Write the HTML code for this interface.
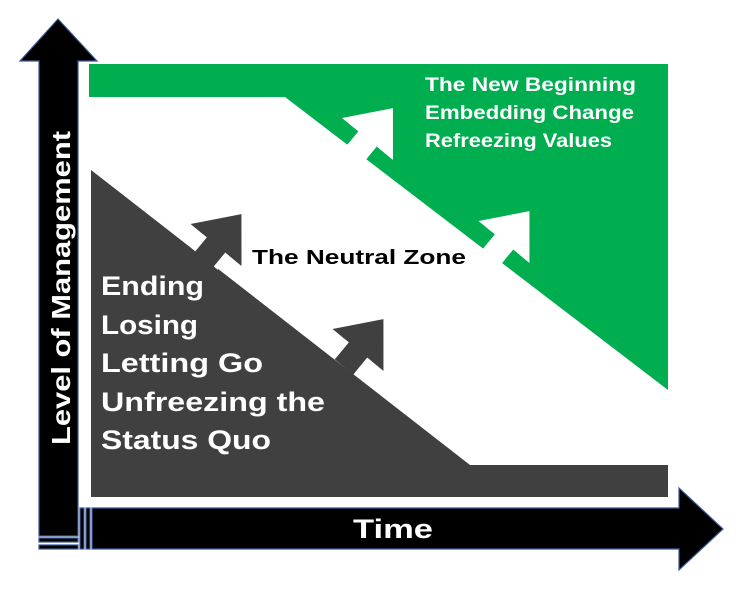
<!DOCTYPE html>
<html><head><meta charset="utf-8"><style>
html,body{margin:0;padding:0;background:#fff;}
svg{display:block;}
text{font-family:"Liberation Sans",sans-serif;font-weight:bold;}
</style></head><body>
<svg width="738" height="590" viewBox="0 0 738 590" xmlns="http://www.w3.org/2000/svg">
<rect width="738" height="590" fill="#fff"/>
<!-- green shape -->
<polygon points="89,64 668,64 668,390 285,97 89,97" fill="#00ad4f"/>
<!-- gray shape -->
<polygon points="91,170 470,465 668,465 668,497 91,497" fill="#404040"/>
<!-- green (white) arrows -->
<g fill="#fff">
<path d="M40 0 L0 -33 L0 -12 L-22 -12 L-22 12 L0 12 L0 33 Z" transform="translate(367.5,139) rotate(-50.5)"/>
<path d="M40 0 L0 -33 L0 -12 L-22 -12 L-22 12 L0 12 L0 33 Z" transform="translate(504,242) rotate(-50.5)"/>
</g>
<g fill="none" stroke="#00ad4f" stroke-width="5">
<path d="M0 -14.5 L-14 -14.5 M0 14.5 L-14 14.5" transform="translate(367.5,139) rotate(-50.5)"/>
<path d="M0 -14.5 L-14 -14.5 M0 14.5 L-14 14.5" transform="translate(504,242) rotate(-50.5)"/>
</g>
<!-- gray arrows -->
<g fill="#404040">
<path d="M40 0 L0 -33 L0 -12 L-22 -12 L-22 12 L0 12 L0 33 Z" transform="translate(216,245) rotate(-50.5)"/>
<path d="M40 0 L0 -33 L0 -12 L-22 -12 L-22 12 L0 12 L0 33 Z" transform="translate(358,350) rotate(-50.5)"/>
</g>
<g fill="none" stroke="#fff" stroke-width="5">
<path d="M0 -14.5 L-18 -14.5 M0 14.5 L-18 14.5" transform="translate(216,245) rotate(-50.5)"/>
<path d="M0 -14.5 L-18 -14.5 M0 14.5 L-18 14.5" transform="translate(358,350) rotate(-50.5)"/>
</g>
<!-- axes -->
<g fill="#000" stroke="#3a5a9a" stroke-width="1.2">
<polygon points="58,19 97,61 78,61 78,536 39,536 39,61 20,61"/>
<rect x="39" y="538" width="39" height="4"/>
<rect x="39" y="545" width="39" height="4"/>
<rect x="80" y="508" width="4" height="41"/>
<rect x="86" y="508" width="4" height="41"/>
<polygon points="92,508 679,508 679,488 723,529 679,570 679,549 92,549"/>
</g>
<!-- texts -->
<text x="0" y="0" fill="#fff" font-size="26" text-anchor="middle" textLength="314" lengthAdjust="spacingAndGlyphs" transform="translate(70,288) rotate(-90)">Level of Management</text>
<text x="393" y="538" fill="#fff" font-size="27" text-anchor="middle" textLength="80" lengthAdjust="spacingAndGlyphs">Time</text>
<g fill="#fff" font-size="27">
<text x="101" y="295" textLength="103" lengthAdjust="spacingAndGlyphs">Ending</text>
<text x="101" y="334" textLength="97" lengthAdjust="spacingAndGlyphs">Losing</text>
<text x="101" y="372" textLength="162" lengthAdjust="spacingAndGlyphs">Letting Go</text>
<text x="101" y="411" textLength="224" lengthAdjust="spacingAndGlyphs">Unfreezing the</text>
<text x="101" y="449" textLength="170" lengthAdjust="spacingAndGlyphs">Status Quo</text>
</g>
<text x="252" y="264" fill="#000" font-size="20" textLength="214" lengthAdjust="spacingAndGlyphs">The Neutral Zone</text>
<g fill="#fff" font-size="19">
<text x="425" y="91" textLength="211" lengthAdjust="spacingAndGlyphs">The New Beginning</text>
<text x="425" y="119" textLength="209" lengthAdjust="spacingAndGlyphs">Embedding Change</text>
<text x="425" y="147" textLength="187" lengthAdjust="spacingAndGlyphs">Refreezing Values</text>
</g>
</svg>
</body></html>
